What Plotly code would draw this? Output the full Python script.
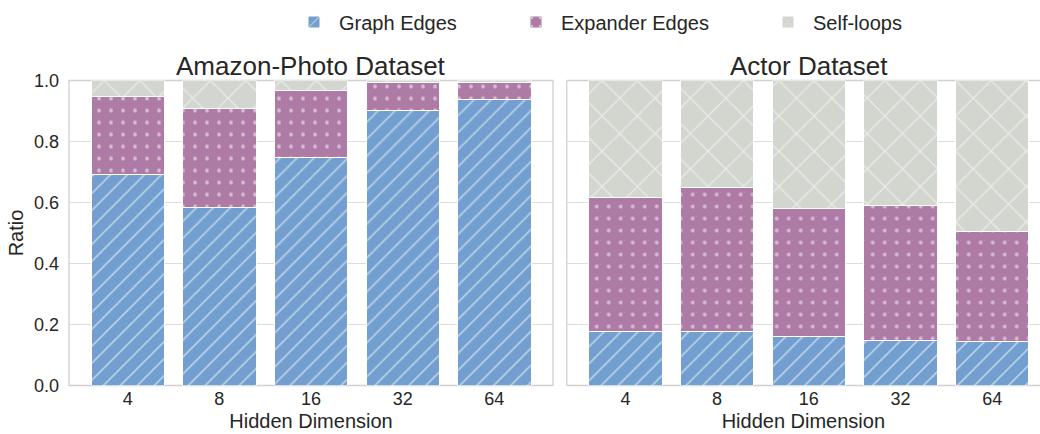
import plotly.graph_objects as go

hidden_dims = ["4", "8", "16", "32", "64"]

amazon_graph = [0.692, 0.585, 0.747, 0.903, 0.937]
amazon_expander = [0.255, 0.324, 0.220, 0.090, 0.058]
amazon_self = [0.053, 0.091, 0.033, 0.007, 0.005]

actor_graph = [0.178, 0.178, 0.161, 0.147, 0.145]
actor_expander = [0.439, 0.470, 0.418, 0.444, 0.361]
actor_self = [0.383, 0.352, 0.421, 0.409, 0.494]

series_names = ["Graph Edges", "Expander Edges", "Self-loops"]
colors = ["#729fcf", "#ad7ba6", "#d3d6cf"]
patterns = [
    dict(shape="/", size=12, solidity=0.14, fgcolor="white"),
    dict(shape=".", size=12, solidity=0.08, fgcolor="white"),
    dict(shape="x", size=25, solidity=0.1, fgcolor="white"),
]

TXT = "#262626"
FONT = "Arial, Liberation Sans, sans-serif"
W, H = 1040, 434

legend_ids = ["legend", "legend2", "legend3"]
legend_text_x = [338, 560, 812]

fig = go.Figure()
datasets = [
    ("x", "y", [amazon_graph, amazon_expander, amazon_self]),
    ("x2", "y2", [actor_graph, actor_expander, actor_self]),
]
for k, (xa, ya, vals) in enumerate(datasets):
    for i, name in enumerate(series_names):
        fig.add_trace(go.Bar(
            x=hidden_dims, y=vals[i], name=name, xaxis=xa, yaxis=ya,
            marker=dict(color=colors[i], pattern=patterns[i],
                        line=dict(color="white", width=1)),
            showlegend=(k == 0), legendgroup=name, legend=legend_ids[i],
        ))

x1d = [69 / W, 553 / W]
x2d = [566.7 / W, 1.0]
yd = [1 - 385.5 / H, 1 - 80.5 / H]
grid = "#dcdcdc"

common_x = dict(showgrid=False, zeroline=False, showline=False, ticks="",
                tickfont=dict(size=18, color=TXT, family=FONT),
                automargin=False, type="category")
common_y = dict(range=[0, 1.0], tickvals=[0, 0.2, 0.4, 0.6, 0.8, 1.0],
                ticktext=["0.0", "0.2", "0.4", "0.6", "0.8", "1.0"],
                showgrid=True, gridcolor=grid, gridwidth=1.3, zeroline=False,
                showline=False, ticks="", domain=yd, automargin=False,
                tickfont=dict(size=18, color=TXT, family=FONT))

legend_common = dict(orientation="h", y=1 - 22 / H, yanchor="middle", xanchor="left",
                     font=dict(size=20, color=TXT, family=FONT),
                     bgcolor="rgba(0,0,0,0)", itemwidth=40)

fig.update_layout(
    width=W, height=H, margin=dict(l=0, r=0, t=0, b=0),
    paper_bgcolor="white", plot_bgcolor="white",
    barmode="stack", bargap=0.2,
    font=dict(family=FONT, color=TXT),
    xaxis=dict(domain=x1d, range=[-0.64, 4.64], anchor="y",
               title=dict(text="Hidden Dimension", font=dict(size=20, color=TXT), standoff=6),
               **common_x),
    xaxis2=dict(domain=x2d, range=[-0.64, 4.521], anchor="y2",
                title=dict(text="Hidden Dimension", font=dict(size=20, color=TXT), standoff=6),
                **common_x),
    yaxis=dict(anchor="x", title=dict(text="Ratio", font=dict(size=20, color=TXT), standoff=4),
               ticklabelstandoff=9, **common_y),
    yaxis2=dict(anchor="x2", showticklabels=False, **common_y),
    legend=dict(x=(legend_text_x[0] - 49) / W, **legend_common),
    legend2=dict(x=(legend_text_x[1] - 49) / W, **legend_common),
    legend3=dict(x=(legend_text_x[2] - 49) / W, **legend_common),
    showlegend=True,
)

frame_col = "#d0d0d0"
fig.add_shape(type="rect", xref="paper", yref="paper", x0=x1d[0], x1=x1d[1], y0=yd[0], y1=yd[1],
              line=dict(color=frame_col, width=1.3), layer="below")
for (a, b, c, d) in [(x2d[0], yd[0], x2d[0], yd[1]), (x2d[0], yd[0], 1.0, yd[0]), (x2d[0], yd[1], 1.0, yd[1])]:
    fig.add_shape(type="line", xref="paper", yref="paper", x0=a, y0=b, x1=c, y1=d,
                  line=dict(color=frame_col, width=1.3), layer="below")

fig.add_annotation(text="Amazon-Photo Dataset", xref="paper", yref="paper",
                   x=(69 + 553) / 2 / W, y=1 - 66 / H, xanchor="center", yanchor="middle",
                   showarrow=False, font=dict(size=26, color=TXT, family=FONT))
fig.add_annotation(text="Actor Dataset", xref="paper", yref="paper",
                   x=(566.7 + 1052) / 2 / W, y=1 - 66 / H, xanchor="center", yanchor="middle",
                   showarrow=False, font=dict(size=26, color=TXT, family=FONT))

fig.write_html("out.html")
